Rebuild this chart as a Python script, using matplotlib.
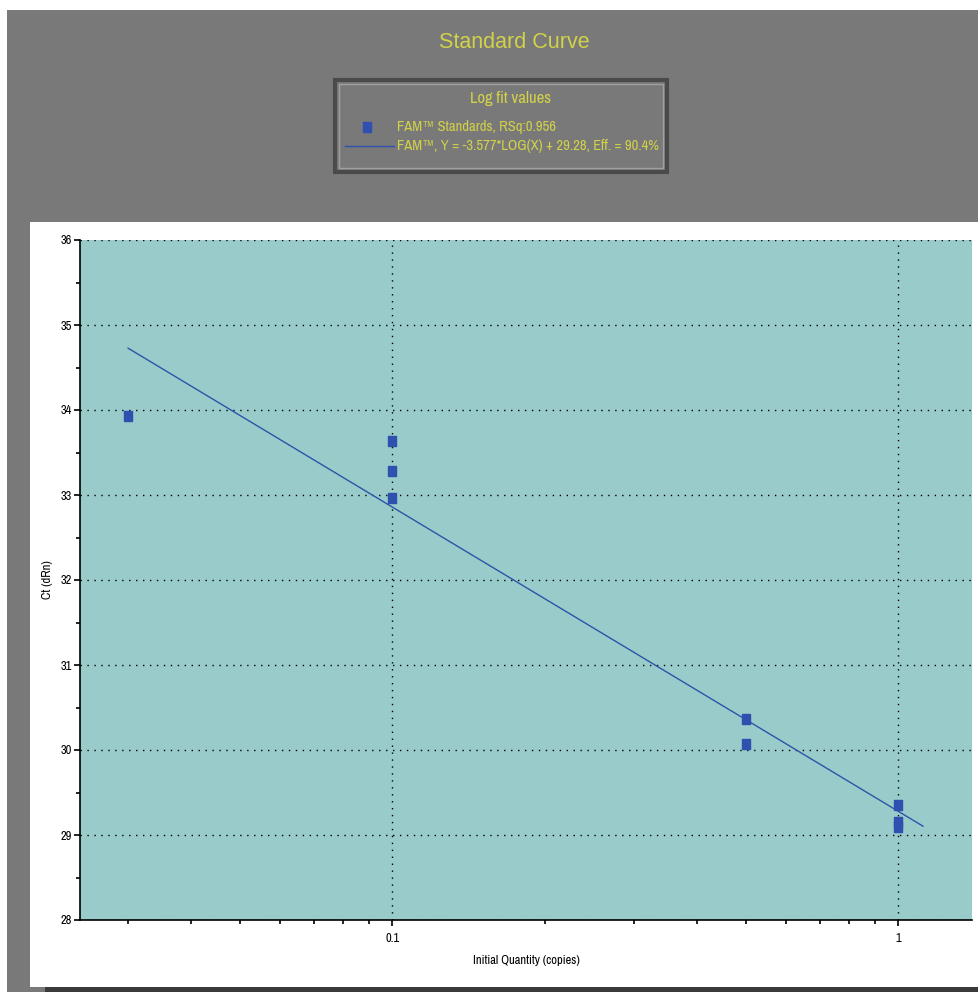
import matplotlib
matplotlib.use("Agg")
import matplotlib.pyplot as plt
import numpy as np
from matplotlib.patches import Rectangle
from matplotlib.lines import Line2D
from matplotlib.ticker import LogLocator, NullFormatter, FixedLocator, FixedFormatter, MultipleLocator
from matplotlib import font_manager

# ---- data ----
quantities = [0.03, 0.1, 0.1, 0.1, 0.5, 0.5, 1.0, 1.0, 1.0]
ct_values = [33.93, 33.63, 33.28, 32.97, 30.36, 30.07, 29.35, 29.15, 29.10]
fit_slope = -3.577
fit_intercept = 29.28
fit_range = [0.03, 1.12]
y_ticks = [28, 29, 30, 31, 32, 33, 34, 35, 36]
x_tick_vals = [0.1, 1]
x_tick_labels = ["0.1", "1"]
title_text = "Standard Curve"
legend_title = "Log fit values"
legend_labels = ["FAM\u2122 Standards, RSq:0.956",
                 "FAM\u2122, Y = -3.577*LOG(X) + 29.28, Eff. = 90.4%"]
x_label = "Initial Quantity (copies)"
y_label = "Ct (dRn)"

names = sorted({f.name for f in font_manager.fontManager.ttflist})
cond = [n for n in names if "Narrow" in n or "Condensed" in n]

W, H = 979, 992
fig = plt.figure(figsize=(W / 100, H / 100), dpi=100)
fig.patch.set_facecolor("white")

def fx(px):
    return px / W

def fy(py):
    return 1 - py / H

narrow = cond[:1] + ["Liberation Sans", "DejaVu Sans"]
yellow = "#d2d24a"
gray = "#797979"
marker_color = "#3050b0"
rect_marker = [(-0.39, -0.5), (0.39, -0.5), (0.39, 0.5), (-0.39, 0.5), (-0.39, -0.5)]

fig.patches.append(Rectangle((fx(7), 0), 1 - fx(7), fy(10), transform=fig.transFigure,
                             facecolor=gray, edgecolor="none", zorder=0))
fig.patches.append(Rectangle((fx(30), fy(987)), 1 - fx(30), fy(222) - fy(987),
                             transform=fig.transFigure, facecolor="white", edgecolor="none", zorder=1))
fig.patches.append(Rectangle((fx(45), 0), 1 - fx(45), fy(987), transform=fig.transFigure,
                             facecolor="#3a3a3a", edgecolor="none", zorder=1))

fig.text(fx(514), fy(43), title_text, color=yellow, fontsize=15.5, ha="center", va="center",
         family=["Liberation Sans", "DejaVu Sans"])

fig.patches.append(Rectangle((fx(335), fy(172)), fx(667) - fx(335), fy(80) - fy(172),
                             transform=fig.transFigure, facecolor=gray, edgecolor="#4a4a4a",
                             linewidth=3, zorder=2))
fig.patches.append(Rectangle((fx(339), fy(168)), fx(663) - fx(339), fy(84) - fy(168),
                             transform=fig.transFigure, facecolor="none", edgecolor="#a0a0a0",
                             linewidth=1, zorder=3))
fig.text(fx(511), fy(98), legend_title, color=yellow, fontsize=12, ha="center", va="center",
         family=narrow, zorder=4)
fig.lines.append(Line2D([fx(367)], [fy(127)], marker=rect_marker, markersize=6.5, color=marker_color,
                        linestyle="none", transform=fig.transFigure, zorder=4))
fig.lines.append(Line2D([fx(345), fx(394)], [fy(146), fy(146)], color=marker_color, linewidth=1,
                        transform=fig.transFigure, zorder=4))
fig.text(fx(397), fy(127), legend_labels[0], color=yellow, fontsize=10.5, ha="left", va="center",
         family=narrow, zorder=4)
fig.text(fx(397), fy(146), legend_labels[1], color=yellow, fontsize=10.5, ha="left", va="center",
         family=narrow, zorder=4)

ax = fig.add_axes([fx(80), fy(920), fx(972) - fx(80), fy(240) - fy(920)])
ax.set_zorder(5)
ax.set_facecolor("#99cbcb")
ax.set_xscale("log")
ax.set_xlim(0.0241, 1.40)
ax.set_ylim(28, 36)

ax.xaxis.set_major_locator(FixedLocator(x_tick_vals))
ax.xaxis.set_major_formatter(FixedFormatter(x_tick_labels))
ax.xaxis.set_minor_locator(LogLocator(base=10, subs=np.arange(2, 10)))
ax.xaxis.set_minor_formatter(NullFormatter())
ax.set_yticks(y_ticks)
ax.yaxis.set_minor_locator(MultipleLocator(0.5))

ax.grid(True, which="major", color="black", linestyle=(0, (1, 4)), linewidth=1)
ax.tick_params(axis="both", which="major", direction="out", length=4, width=1.2, labelsize=9,
               colors="black", pad=1.5)
ax.tick_params(axis="both", which="minor", direction="out", length=3, width=1.2)
ax.tick_params(axis="x", which="major", pad=5)
for lab in ax.get_xticklabels() + ax.get_yticklabels():
    lab.set_family(narrow)

for side in ["top", "right"]:
    ax.spines[side].set_visible(False)
ax.spines["left"].set_linewidth(1.2)
ax.spines["bottom"].set_linewidth(1.2)

xs = np.logspace(np.log10(fit_range[0]), np.log10(fit_range[1]), 50)
ax.plot(xs, fit_slope * np.log10(xs) + fit_intercept, color="#2a55a8", linewidth=1, zorder=3)
ax.plot(quantities, ct_values, linestyle="none", marker=rect_marker, markersize=7,
        color=marker_color, zorder=4)

ax.set_xlabel(x_label, fontsize=9, family=narrow, labelpad=8)
ax.set_ylabel(y_label, fontsize=9, family=narrow, labelpad=6)

fig.savefig("out.png", dpi=100, facecolor=fig.get_facecolor())
